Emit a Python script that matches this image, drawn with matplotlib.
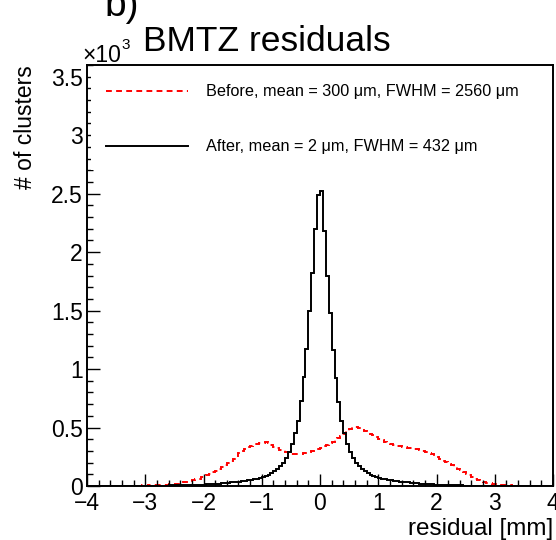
import numpy as np
import matplotlib.pyplot as plt
from matplotlib.ticker import MultipleLocator, FuncFormatter

plt.rcParams['font.family'] = ['Liberation Sans', 'DejaVu Sans']

# histogram binning: 160 bins of 0.05 mm from -4 to 4 mm
x_lo, x_hi, n_bins = -4.0, 4.0, 160
edges = np.linspace(x_lo, x_hi, n_bins + 1)

# counts per bin, in units of 10^3 clusters
before = [
    0.001, 0.001, 0.002, 0.001, 0.002, 0.002, 0.001, 0.002, 0.002, 0.003,
    0.002, 0.003, 0.002, 0.003, 0.003, 0.004, 0.003, 0.004, 0.004, 0.005,
    0.004, 0.005, 0.005, 0.006, 0.007, 0.008, 0.009, 0.011, 0.013, 0.015,
    0.018, 0.021, 0.026, 0.030, 0.036, 0.042, 0.049, 0.056, 0.064, 0.074,
    0.083, 0.094, 0.105, 0.118, 0.131, 0.145, 0.160, 0.176, 0.193, 0.212,
    0.232, 0.255, 0.278, 0.298, 0.318, 0.332, 0.345, 0.358, 0.362, 0.370,
    0.366, 0.374, 0.368, 0.352, 0.330, 0.322, 0.312, 0.305, 0.292, 0.282,
    0.276, 0.270, 0.272, 0.275, 0.280, 0.286, 0.292, 0.300, 0.308, 0.318,
    0.328, 0.340, 0.352, 0.366, 0.380, 0.395, 0.412, 0.428, 0.448, 0.468,
    0.488, 0.505, 0.502, 0.494, 0.482, 0.470, 0.458, 0.446, 0.432, 0.418,
    0.405, 0.392, 0.380, 0.370, 0.360, 0.352, 0.346, 0.340, 0.335, 0.330,
    0.326, 0.322, 0.318, 0.313, 0.307, 0.300, 0.292, 0.282, 0.270, 0.258,
    0.245, 0.232, 0.218, 0.204, 0.190, 0.176, 0.162, 0.148, 0.133, 0.118,
    0.104, 0.090, 0.077, 0.064, 0.053, 0.043, 0.035, 0.028, 0.022, 0.018,
    0.014, 0.011, 0.009, 0.007, 0.006, 0.005, 0.004, 0.004, 0.003, 0.003,
    0.003, 0.002, 0.002, 0.002, 0.002, 0.001, 0.002, 0.001, 0.001, 0.001,
]
after = [
    0.001, 0.001, 0.001, 0.001, 0.001, 0.001, 0.002, 0.001, 0.002, 0.002,
    0.002, 0.002, 0.002, 0.002, 0.002, 0.003, 0.002, 0.003, 0.003, 0.003,
    0.003, 0.003, 0.003, 0.003, 0.004, 0.004, 0.004, 0.004, 0.005, 0.005,
    0.005, 0.006, 0.006, 0.007, 0.007, 0.008, 0.009, 0.009, 0.010, 0.011,
    0.012, 0.014, 0.015, 0.017, 0.019, 0.021, 0.023, 0.025, 0.027, 0.030,
    0.032, 0.035, 0.038, 0.041, 0.045, 0.048, 0.052, 0.057, 0.062, 0.068,
    0.075, 0.085, 0.095, 0.110, 0.125, 0.145, 0.170, 0.200, 0.240, 0.290,
    0.360, 0.450, 0.560, 0.730, 0.930, 1.170, 1.500, 1.820, 2.200, 2.490,
    2.520, 2.180, 1.800, 1.480, 1.160, 0.920, 0.720, 0.560, 0.450, 0.360,
    0.290, 0.240, 0.200, 0.170, 0.145, 0.125, 0.110, 0.095, 0.085, 0.075,
    0.070, 0.062, 0.057, 0.052, 0.048, 0.045, 0.041, 0.038, 0.035, 0.032,
    0.030, 0.027, 0.025, 0.023, 0.021, 0.019, 0.017, 0.015, 0.014, 0.012,
    0.011, 0.010, 0.009, 0.008, 0.007, 0.006, 0.006, 0.005, 0.005, 0.004,
    0.004, 0.004, 0.003, 0.003, 0.003, 0.003, 0.003, 0.002, 0.002, 0.002,
    0.002, 0.002, 0.002, 0.002, 0.002, 0.001, 0.002, 0.001, 0.001, 0.001,
    0.001, 0.001, 0.001, 0.001, 0.001, 0.001, 0.001, 0.001, 0.001, 0.001,
]
label_before = 'Before, mean = 300 μm, FWHM = 2560 μm'
label_after = 'After, mean = 2 μm, FWHM = 432 μm'

fig = plt.figure(figsize=(5.56, 5.40), dpi=100)
ax = fig.add_axes([87/556, 54/540, 466/556, 421/540])

ax.stairs(before, edges, color='red', lw=1.4, linestyle=(0, (3, 2.2)),
          label=label_before)
ax.stairs(after, edges, color='black', lw=1.4, label=label_after)

ax.set_xlim(-4, 4)
ax.set_ylim(0, 3.6)
ax.xaxis.set_major_locator(MultipleLocator(1))
ax.xaxis.set_minor_locator(MultipleLocator(0.2))
ax.yaxis.set_major_locator(MultipleLocator(0.5))
ax.yaxis.set_minor_locator(MultipleLocator(0.1))
ax.yaxis.set_major_formatter(FuncFormatter(lambda v, p: f'{v:g}'))
ax.tick_params(which='both', direction='in', top=False, right=False,
               labelsize=16.5, width=1)
ax.tick_params(which='major', length=9)
ax.tick_params(which='minor', length=4.5)
ax.tick_params(axis='x', pad=4)
ax.tick_params(axis='y', pad=3)
for sp in ax.spines.values():
    sp.set_linewidth(1.4)

ax.set_xlabel('residual [mm]', fontsize=17.5, loc='right', labelpad=2.5)
ax.set_ylabel('# of clusters', fontsize=16.5, loc='top', labelpad=10)

# white legend box without border, it hides the upper y ticks like ROOT does
leg = ax.legend(loc='upper left',
                bbox_to_anchor=(4/466, 1 - 4/421, 0.98, 0.0),
                mode='expand', borderaxespad=0, fontsize=11.7,
                handlelength=5.0, handletextpad=1.1, labelspacing=2.45,
                borderpad=0.95, fancybox=False, framealpha=1)
leg.get_frame().set_edgecolor('none')

fig.text(82/556, 1 - 62/540, '×10', fontsize=16.5, va='baseline')
fig.text(121/556, 1 - 49/540, '3', fontsize=11, va='baseline')
fig.text(143/556, 1 - 51/540, 'BMTZ residuals', fontsize=25.5, va='baseline')
fig.text(104/556, 1 - 16/540, 'b)', fontsize=28, va='baseline')

fig.savefig('out.png', dpi=100)
